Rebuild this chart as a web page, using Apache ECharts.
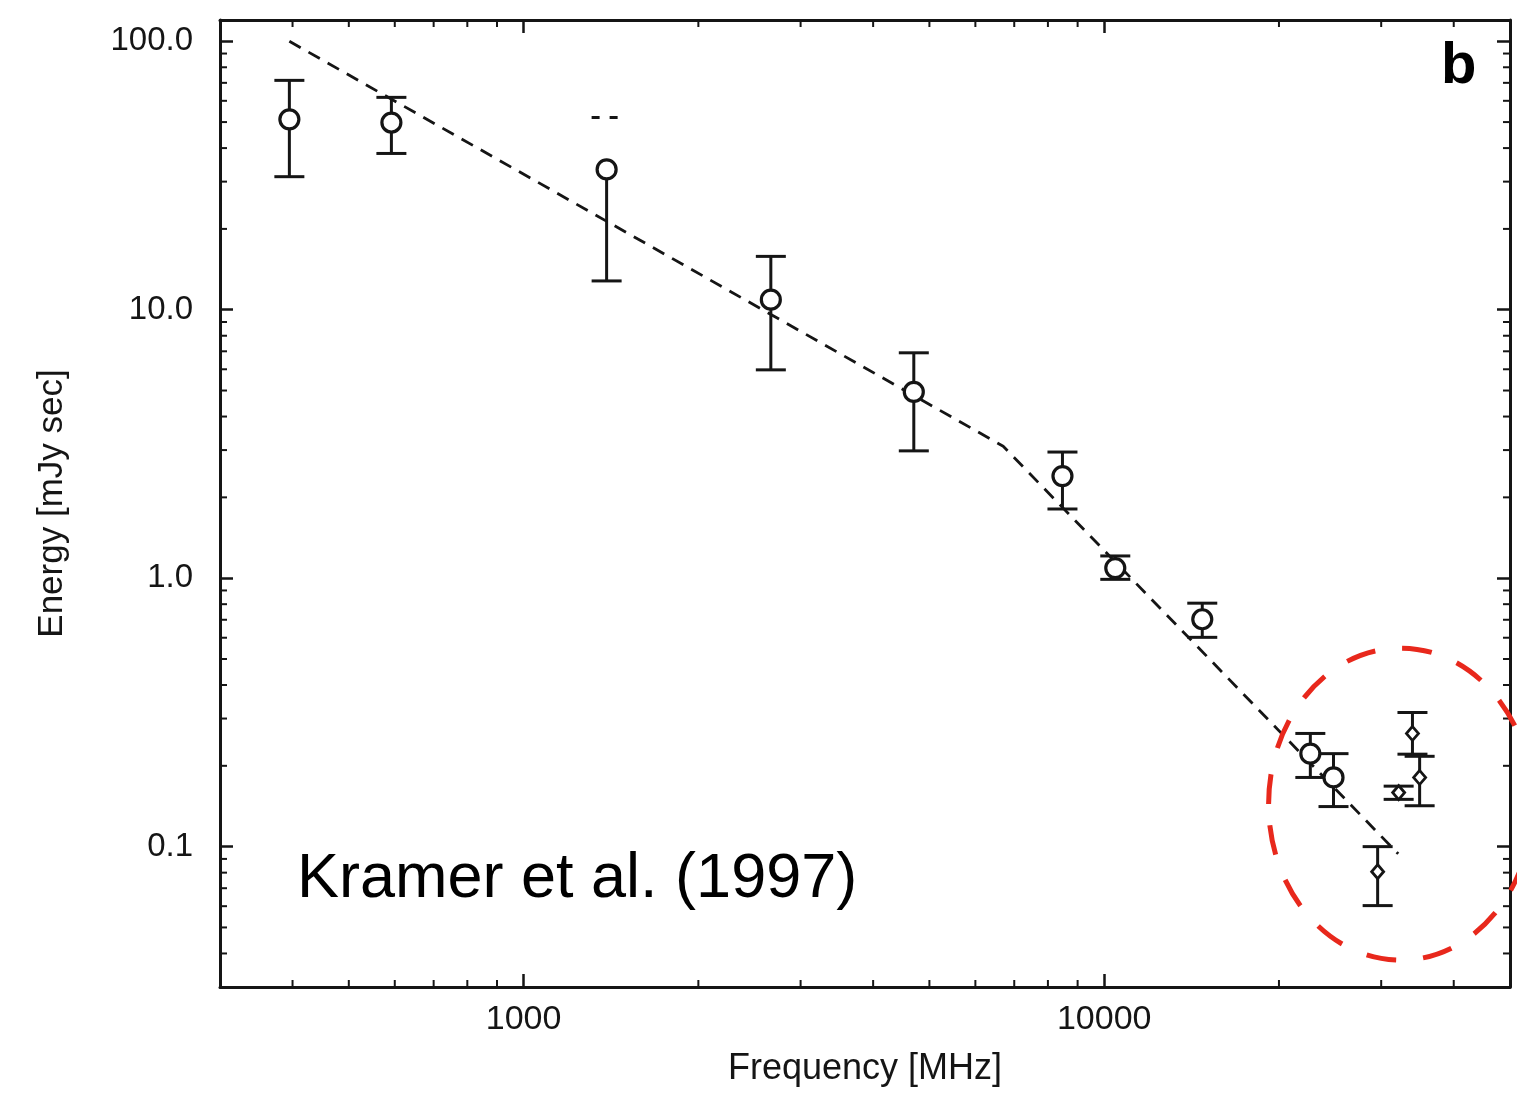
<!DOCTYPE html>
<html>
<head>
<meta charset="utf-8">
<script src="https://cdn.jsdelivr.net/npm/echarts@6/dist/echarts.min.js"></script>
<style>
    html, body { margin: 0; padding: 0; background: #fff; }
    #main { width: 1517px; height: 1093px; }
</style>
</head>
<body>
<div id="main"></div>
<script>
// ---- data ----
// open circles
var circleFreq   = [395, 592, 1390, 2666, 4700, 8475, 10450, 14755, 22650, 24830];
var circleEnergy = [51.2, 49.8, 33.3, 10.9, 4.94, 2.40, 1.09, 0.703, 0.222, 0.181];
var circleLow    = [31.3, 38.2, 12.8, 5.97, 2.98, 1.81, 0.99, 0.602, 0.181, 0.141];
var circleHigh   = [71.5, 61.8, 52.0, 15.8, 6.91, 2.95, 1.21, 0.807, 0.264, 0.222];

// small diamonds
var diamondFreq   = [29580, 32150, 33960, 34940];
var diamondEnergy = [0.0807, 0.159, 0.264, 0.181];
var diamondLow    = [0.0603, 0.150, 0.221, 0.142];
var diamondHigh   = [0.100, 0.168, 0.316, 0.217];

// broken power-law fit (dashed)
var fitFreq   = [395, 6700, 32100];
var fitEnergy = [100, 3.1, 0.094];

// axes
var xMin = 300, xMax = 50000;
var yMin = 0.03, yMax = 120;
var xMinorTicks = [400, 500, 600, 700, 800, 900,
                   2000, 3000, 4000, 5000, 6000, 7000, 8000, 9000,
                   20000, 30000, 40000];
var yMinorTicks = [0.04, 0.05, 0.06, 0.07, 0.08, 0.09,
                   0.2, 0.3, 0.4, 0.5, 0.6, 0.7, 0.8, 0.9,
                   2, 3, 4, 5, 6, 7, 8, 9,
                   20, 30, 40, 50, 60, 70, 80, 90];

var INK = '#151515';
var FONT = '"Liberation Sans", Arial, Helvetica, sans-serif';

var toRows = function (f, e, lo, hi) {
    var rows = [];
    for (var i = 0; i < f.length; i++) rows.push([f[i], lo[i], hi[i], e[i]]);
    return rows;
};

// error bar with caps; the third circle has a broken (dashed) upper part in the scan
var makeErrRender = function (brokenIdx) {
    return function (params, api) {
        var x = api.value(0);
        var lo = api.coord([x, api.value(1)]);
        var hi = api.coord([x, api.value(2)]);
        var mid = api.coord([x, api.value(3)]);
        var half = 15;
        var st = { stroke: INK, lineWidth: 3 };
        var broken = params.dataIndex === brokenIdx;
        var children = [
            { type: 'line', shape: { x1: lo[0], y1: lo[1], x2: broken ? mid[0] : hi[0], y2: broken ? mid[1] : hi[1] }, style: st },
            { type: 'line', shape: { x1: lo[0] - half, y1: lo[1], x2: lo[0] + half, y2: lo[1] }, style: st }
        ];
        if (broken) {
            children.push({ type: 'line', shape: { x1: hi[0] - half, y1: hi[1], x2: hi[0] + half, y2: hi[1] },
                style: { stroke: INK, lineWidth: 3, lineDash: [8, 10] } });
        } else {
            children.push({ type: 'line', shape: { x1: hi[0] - half, y1: hi[1], x2: hi[0] + half, y2: hi[1] }, style: st });
        }
        return { type: 'group', children: children };
    };
};

// minor log ticks on all four sides of the frame
var renderXMinor = function (params, api) {
    var cs = params.coordSys;
    var px = api.coord([api.value(0), api.value(1)])[0];
    var st = { stroke: INK, lineWidth: 2 };
    return { type: 'group', children: [
        { type: 'line', shape: { x1: px, y1: cs.y + cs.height, x2: px, y2: cs.y + cs.height - 7 }, style: st },
        { type: 'line', shape: { x1: px, y1: cs.y, x2: px, y2: cs.y + 7 }, style: st }
    ]};
};
var renderYMinor = function (params, api) {
    var cs = params.coordSys;
    var py = api.coord([api.value(0), api.value(1)])[1];
    var st = { stroke: INK, lineWidth: 2 };
    return { type: 'group', children: [
        { type: 'line', shape: { x1: cs.x, y1: py, x2: cs.x + 7, y2: py }, style: st },
        { type: 'line', shape: { x1: cs.x + cs.width, y1: py, x2: cs.x + cs.width - 7, y2: py }, style: st }
    ]};
};

var tickStyle = { show: true, inside: true, length: 13, lineStyle: { color: INK, width: 2.5 } };
var lineStyle = { show: true, lineStyle: { color: INK, width: 3 } };

var chart = echarts.init(document.getElementById('main'));

chart.setOption({
    animation: false,
    backgroundColor: '#fff',
    grid: { left: 220, right: 7, top: 20, bottom: 106, containLabel: false, outerBoundsMode: 'none' },
    xAxis: [{
        type: 'log', logBase: 10, min: xMin, max: xMax,
        position: 'bottom',
        axisLine: lineStyle, axisTick: tickStyle, splitLine: { show: false },
        axisLabel: {
            show: true, margin: 16, fontSize: 34, color: INK, fontFamily: FONT,
            showMinLabel: false, showMaxLabel: false,
            formatter: function (v) { return String(Math.round(v)); }
        },
        name: 'Frequency [MHz]', nameLocation: 'middle', nameGap: 64,
        nameTextStyle: { fontSize: 36, color: INK, fontFamily: FONT }
    }, {
        type: 'log', logBase: 10, min: xMin, max: xMax,
        position: 'top',
        axisLine: lineStyle, axisTick: tickStyle, splitLine: { show: false },
        axisLabel: { show: false }
    }],
    yAxis: [{
        type: 'log', logBase: 10, min: yMin, max: yMax,
        position: 'left',
        axisLine: lineStyle, axisTick: tickStyle, splitLine: { show: false },
        axisLabel: {
            show: true, margin: 27, fontSize: 33, color: INK, fontFamily: FONT,
            showMinLabel: false, showMaxLabel: false,
            formatter: function (v) { return v.toFixed(1); }
        },
        name: 'Energy [mJy sec]', nameLocation: 'middle', nameGap: 150,
        nameTextStyle: { fontSize: 35, color: INK, fontFamily: FONT }
    }, {
        type: 'log', logBase: 10, min: yMin, max: yMax,
        position: 'right',
        axisLine: lineStyle, axisTick: tickStyle, splitLine: { show: false },
        axisLabel: { show: false }
    }],
    series: [
        {
            name: 'xminor', type: 'custom', renderItem: renderXMinor, silent: true, clip: false,
            data: xMinorTicks.map(function (v) { return [v, 1]; }),
            encode: { x: 0, y: 1 }, z: 1
        },
        {
            name: 'yminor', type: 'custom', renderItem: renderYMinor, silent: true, clip: false,
            data: yMinorTicks.map(function (v) { return [1000, v]; }),
            encode: { x: 0, y: 1 }, z: 1
        },
        {
            name: 'fit', type: 'line', showSymbol: false, silent: true,
            data: fitFreq.map(function (f, i) { return [f, fitEnergy[i]]; }),
            lineStyle: { color: INK, width: 2.8, type: [13, 9] }, z: 2
        },
        {
            name: 'circleErr', type: 'custom', renderItem: makeErrRender(2), silent: true, clip: false,
            data: toRows(circleFreq, circleEnergy, circleLow, circleHigh),
            encode: { x: 0, y: [1, 2, 3] }, z: 3
        },
        {
            name: 'diamondErr', type: 'custom', renderItem: makeErrRender(-1), silent: true, clip: false,
            data: toRows(diamondFreq, diamondEnergy, diamondLow, diamondHigh),
            encode: { x: 0, y: [1, 2, 3] }, z: 3
        },
        {
            name: 'circles', type: 'scatter', silent: true,
            data: circleFreq.map(function (f, i) { return [f, circleEnergy[i]]; }),
            symbol: 'circle', symbolSize: 19,
            itemStyle: { color: '#fff', borderColor: INK, borderWidth: 3.2, opacity: 1 }, z: 4
        },
        {
            name: 'diamonds', type: 'scatter', silent: true,
            data: diamondFreq.map(function (f, i) { return [f, diamondEnergy[i]]; }),
            symbol: 'diamond', symbolSize: [12, 14],
            itemStyle: { color: '#fff', borderColor: INK, borderWidth: 2.8, opacity: 1 }, z: 4
        }
    ]
});

// annotations: circled region of the high-frequency points, reference text, panel letter
var ringCenter = chart.convertToPixel({ gridIndex: 0 }, [32400, 0.144]);

chart.setOption({
    graphic: [
        {
            type: 'ellipse', silent: true, z: 10,
            shape: { cx: ringCenter[0], cy: ringCenter[1], rx: 132, ry: 156 },
            style: { fill: 'none', stroke: '#e8281c', lineWidth: 5, lineDash: [30, 27] }
        },
        {
            type: 'text', left: 297, top: 848, silent: true, z: 10,
            style: { text: 'Kramer et al. (1997)', fontSize: 63, fontFamily: FONT, fill: '#000' }
        },
        {
            type: 'text', left: 1441, top: 38, silent: true, z: 10,
            style: { text: 'b', fontSize: 58, fontWeight: 'bold', fontFamily: FONT, fill: '#000' }
        }
    ]
});
</script>
</body>
</html>
